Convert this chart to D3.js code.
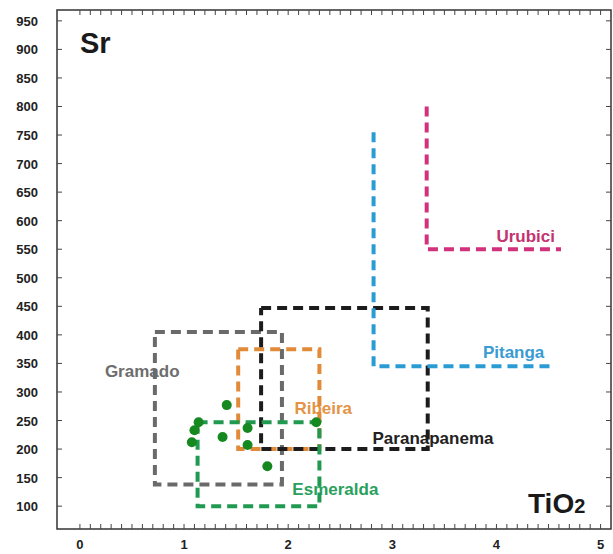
<!DOCTYPE html>
<html><head><meta charset="utf-8">
<script src="https://cdn.jsdelivr.net/npm/d3@7"></script>
<style>html,body{margin:0;padding:0;background:#fff;}svg{display:block;font-family:Arial,"Liberation Sans",sans-serif;}</style>
</head><body>
<script>
// ---- data ----
const boxGroups = ["Gramado", "Ribeira", "Paranapanema", "Esmeralda"];
const boxTiO2Min = [0.72, 1.52, 1.74, 1.13];
const boxTiO2Max = [1.94, 2.30, 3.34, 2.30];
const boxSrMin = [138, 200, 200, 100];
const boxSrMax = [405, 375, 447, 247];

const lGroups = ["Pitanga", "Urubici"];
const lTiO2Min = [2.82, 3.33];
const lTiO2Max = [4.56, 4.62];
const lSrMin = [345, 550];
const lSrMax = [755, 800];

const sampleTiO2 = [1.41, 1.14, 1.10, 1.075, 1.37, 1.61, 1.61, 1.80, 2.27];
const sampleSr   = [277, 247, 233, 212, 221, 237, 207, 170, 247];

const xTickLabels = [0, 1, 2, 3, 4, 5];
const yTickLabels = [100,150,200,250,300,350,400,450,500,550,600,650,700,750,800,850,900,950];

// ---- styling ----
const W = 613, H = 554;
const colors = {Gramado:"#6a6a6a", Ribeira:"#e08a3a", Paranapanema:"#1c1c1c", Esmeralda:"#1f9a50", Pitanga:"#2b9bd3", Urubici:"#d2317c"};
const labelColors = {Gramado:"#6e6e6e", Ribeira:"#e39446", Paranapanema:"#222", Esmeralda:"#2aa05c", Pitanga:"#3a9bd2", Urubici:"#c4336f"};
const labelPos = {Gramado:[0.24,326], Ribeira:[2.06,261], Paranapanema:[2.81,209], Esmeralda:[2.04,119], Pitanga:[3.87,359], Urubici:[4.0,563]};

const x = d3.scaleLinear().domain([-0.22, 5.1]).range([57, 611]);
const y = d3.scaleLinear().domain([60, 969]).range([529, 10]);

const svg = d3.select("body").append("svg").attr("width", W).attr("height", H);

// labels (under the lines)
const allGroups = boxGroups.concat(lGroups);
svg.append("g").selectAll("text").data(allGroups).join("text")
  .attr("x", d => x(labelPos[d][0])).attr("y", d => y(labelPos[d][1]))
  .attr("font-size", 17).attr("font-weight", "bold")
  .attr("fill", d => labelColors[d]).text(d => d);

const line = d3.line().x(d => x(d[0])).y(d => y(d[1]));

// boxes
boxGroups.forEach((g, i) => {
  const pts = [[boxTiO2Min[i], boxSrMax[i]], [boxTiO2Max[i], boxSrMax[i]], [boxTiO2Max[i], boxSrMin[i]], [boxTiO2Min[i], boxSrMin[i]], [boxTiO2Min[i], boxSrMax[i]]];
  svg.append("path").attr("d", line(pts)).attr("fill", "none")
    .attr("stroke", colors[g]).attr("stroke-width", 4).attr("stroke-dasharray", "10,6");
});
// L shapes
lGroups.forEach((g, i) => {
  const pts = [[lTiO2Min[i], lSrMax[i]], [lTiO2Min[i], lSrMin[i]], [lTiO2Max[i], lSrMin[i]]];
  svg.append("path").attr("d", line(pts)).attr("fill", "none")
    .attr("stroke", colors[g]).attr("stroke-width", 4).attr("stroke-dasharray", "10,6");
});

// samples
svg.append("g").selectAll("circle").data(sampleTiO2).join("circle")
  .attr("cx", (d, i) => x(d)).attr("cy", (d, i) => y(sampleSr[i])).attr("r", 5)
  .attr("fill", "#15891f");

// frame
const x0 = x.range()[0], x1 = x.range()[1], y0 = y.range()[0], y1 = y.range()[1];
svg.append("rect").attr("x", x0).attr("y", y1).attr("width", x1 - x0).attr("height", y0 - y1)
  .attr("fill", "none").attr("stroke", "#333").attr("stroke-width", 1.5);

// minor x ticks (top & bottom)
const minorX = d3.range(0, 51).map(i => i / 10);
svg.append("g").selectAll("line").data(minorX).join("line")
  .attr("x1", d => x(d)).attr("x2", d => x(d)).attr("y1", y0).attr("y2", y0 - 5)
  .attr("stroke", "#444").attr("stroke-width", 1);
svg.append("g").selectAll("line").data(minorX).join("line")
  .attr("x1", d => x(d)).attr("x2", d => x(d)).attr("y1", y1).attr("y2", y1 + 5)
  .attr("stroke", "#444").attr("stroke-width", 1);
// y ticks left & right
svg.append("g").selectAll("line").data(yTickLabels).join("line")
  .attr("x1", x0).attr("x2", x0 + 5).attr("y1", d => y(d)).attr("y2", d => y(d))
  .attr("stroke", "#444").attr("stroke-width", 1);
svg.append("g").selectAll("line").data(yTickLabels).join("line")
  .attr("x1", x1).attr("x2", x1 - 5).attr("y1", d => y(d)).attr("y2", d => y(d))
  .attr("stroke", "#444").attr("stroke-width", 1);

// tick labels
svg.append("g").selectAll("text").data(xTickLabels).join("text")
  .attr("x", d => x(d)).attr("y", 549).attr("text-anchor", "middle")
  .attr("font-size", 13).attr("font-weight", "bold").attr("fill", "#222").text(d => d);
svg.append("g").selectAll("text").data(yTickLabels).join("text")
  .attr("x", 38).attr("y", d => y(d) + 5).attr("text-anchor", "end")
  .attr("font-size", 13).attr("font-weight", "bold").attr("fill", "#222").text(d => d);

// axis titles
svg.append("text").attr("x", 80).attr("y", 53).attr("font-size", 29).attr("font-weight", "bold")
  .attr("fill", "#1a1a1a").text("Sr");
const t = svg.append("text").attr("x", 528).attr("y", 513).attr("font-size", 28).attr("font-weight", "bold").attr("fill", "#1a1a1a");
t.append("tspan").text("TiO");
t.append("tspan").attr("font-size", 20).text("2");
</script>
</body></html>
